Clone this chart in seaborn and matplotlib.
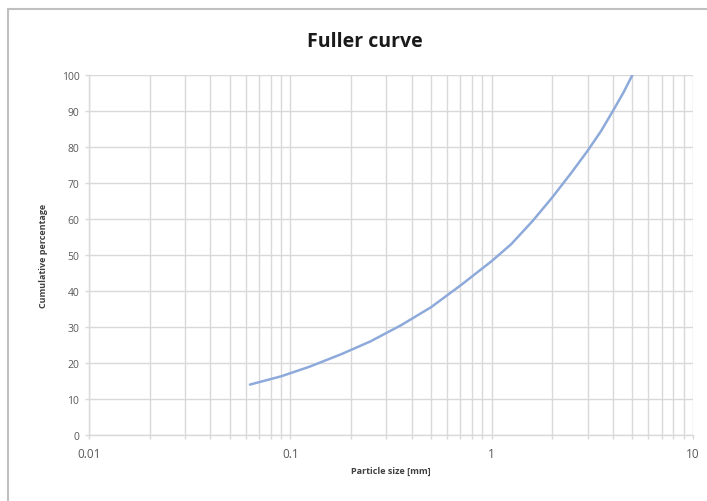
import numpy as np
import pandas as pd
import matplotlib
matplotlib.use("Agg")
import matplotlib.pyplot as plt
import seaborn as sns
from matplotlib.ticker import FixedLocator, LogLocator, NullFormatter

# values
particle_size = [0.063, 0.09, 0.125, 0.18, 0.25, 0.355, 0.5, 0.71, 1.0, 1.25,
                 1.6, 2.0, 2.5, 3.0, 3.5, 4.0, 4.5, 5.0]
cumulative_pct = [14.0, 16.3, 19.0, 22.5, 26.0, 30.5, 35.5, 41.8, 48.3, 53.0,
                  59.5, 66.0, 73.0, 79.0, 84.5, 90.0, 95.0, 100.0]
x_ticks = [0.01, 0.1, 1, 10]
x_tick_labels = ["0.01", "0.1", "1", "10"]
y_ticks = list(range(0, 101, 10))

df = pd.DataFrame({"size": particle_size, "pct": cumulative_pct})

sns.set_theme(style="white")
plt.rcParams["font.family"] = ["Open Sans", "DejaVu Sans"]

fig = plt.figure(figsize=(7.07, 5.02), dpi=100)
ax = fig.add_axes([0.1259, 0.1315, 0.9802 - 0.1259, 0.8486 - 0.1315])

sns.lineplot(data=df, x="size", y="pct", ax=ax, color="#8eaadb", linewidth=1.8)

ax.set_xscale("log")
ax.set_xlim(0.01, 10)
ax.set_ylim(0, 100)
ax.xaxis.set_major_locator(FixedLocator(x_ticks))
ax.set_xticklabels(x_tick_labels)
ax.xaxis.set_minor_locator(LogLocator(base=10, subs=np.arange(2, 10)))
ax.xaxis.set_minor_formatter(NullFormatter())
ax.set_yticks(y_ticks)

grid_c = "#d9d9d9"
ax.grid(True, which="major", color=grid_c, linewidth=1.0)
ax.grid(True, which="minor", axis="x", color=grid_c, linewidth=1.0)
for side in ["top", "right"]:
    ax.spines[side].set_visible(False)
for side in ["left", "bottom"]:
    ax.spines[side].set_color(grid_c)
    ax.spines[side].set_linewidth(1.0)
ax.tick_params(axis="both", which="both", length=3, color=grid_c, width=1.0,
               labelsize=7.5, labelcolor="#595959")
ax.tick_params(axis="x", which="both", direction="out", bottom=True, pad=6)
ax.tick_params(axis="y", which="major", direction="out", left=True, pad=4)
for lab in ax.get_xticklabels():
    lab.set_fontsize(8.5)

ax.set_xlabel("Particle size [mm]", fontsize=6.5, fontweight="bold", color="#404040", labelpad=4)
ax.set_ylabel("Cumulative percentage", fontsize=6.5, fontweight="bold", color="#404040", labelpad=10)
fig.text(0.516, 0.916, "Fuller curve", ha="center", va="center", fontsize=14,
         fontweight="bold", color="#1a1a1a")

# chart frame (top and left edges visible in the reference)
fig.add_artist(plt.Line2D([8 / 707, 1.0], [1 - 10 / 502, 1 - 10 / 502], color="#bfbfbf", linewidth=1.5))
fig.add_artist(plt.Line2D([8 / 707, 8 / 707], [0.0, 1 - 10 / 502], color="#bfbfbf", linewidth=1.5))

fig.savefig("out.png", dpi=100)
